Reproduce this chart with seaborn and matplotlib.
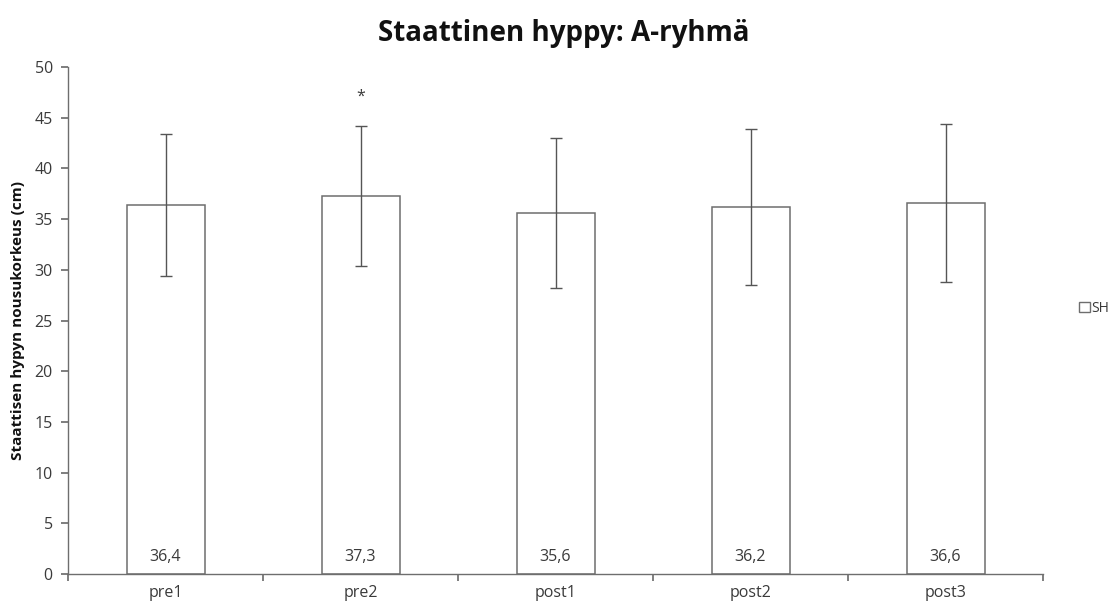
import matplotlib
matplotlib.use("Agg")
import matplotlib.pyplot as plt
from matplotlib.patches import Patch
import seaborn as sns
import pandas as pd

# Static jump height per measurement point
categories = ["pre1", "pre2", "post1", "post2", "post3"]
means = [36.4, 37.3, 35.6, 36.2, 36.6]
sds = [7.0, 6.9, 7.4, 7.7, 7.8]
value_labels = ["36,4", "37,3", "35,6", "36,2", "36,6"]
significant = ["pre2"]
series_name = "SH"

sns.set_theme(style="white")
plt.rcParams["font.family"] = ["Open Sans", "DejaVu Sans"]

df = pd.DataFrame({"time": categories, "height": means})

fig = plt.figure(figsize=(11.12, 6.08), dpi=100)
ax = fig.add_axes([0.0612, 0.0559, 0.8768, 0.8339])

line_col = "#6e6e6e"
text_col = "#3a3a3a"

sns.barplot(data=df, x="time", y="height", order=categories, width=0.4,
            color="white", edgecolor=line_col, linewidth=1.1, ax=ax)

centers = [p.get_x() + p.get_width() / 2 for p in ax.patches]
ax.errorbar(centers, means, yerr=sds, fmt="none", ecolor="#555555",
            elinewidth=1.0, capsize=4, capthick=1.0, zorder=3)

for x, lab in zip(centers, value_labels):
    ax.text(x, 1.7, lab, ha="center", va="center", fontsize=11.5, color=text_col)

for cat in significant:
    i = categories.index(cat)
    ax.text(centers[i], means[i] + sds[i] + 2.9, "*", ha="center", va="center",
            fontsize=11.5, color=text_col)

ax.set_ylim(0, 50)
ax.set_xlim(-0.5, len(categories) - 0.5)
ax.set_yticks(range(0, 51, 5))
ax.set_xticks([i - 0.5 for i in range(len(categories) + 1)], minor=False)
ax.set_xticklabels([])
ax.set_xticks(range(len(categories)), minor=True)
ax.set_xticklabels(categories, minor=True)
ax.tick_params(axis="x", which="major", direction="out", length=5, color=line_col, bottom=True)
ax.tick_params(axis="x", which="minor", length=0, pad=8, labelsize=11.5, labelcolor=text_col)
ax.tick_params(axis="y", direction="out", length=5, color=line_col, left=True,
               labelsize=11.5, labelcolor=text_col, pad=6)

for side in ["top", "right"]:
    ax.spines[side].set_visible(False)
for side in ["left", "bottom"]:
    ax.spines[side].set_color(line_col)
    ax.spines[side].set_linewidth(1.0)

ax.set_xlabel("")
ax.set_ylabel("Staattisen hypyn nousukorkeus (cm)", fontsize=11, fontweight="bold",
              color="#111111", labelpad=7)

fig.suptitle("Staattinen hyppy: A-ryhmä", x=0.507, y=0.968, fontsize=20,
             fontweight="bold", color="#111111")

handle = Patch(facecolor="white", edgecolor=line_col, linewidth=1.0)
fig.legend([handle], [series_name], loc="center left", bbox_to_anchor=(0.9705, 0.493),
           frameon=False, fontsize=10, handlelength=0.75, handleheight=0.75,
           handletextpad=0.15, borderpad=0, borderaxespad=0, labelcolor=text_col)

ax.grid(False)
fig.savefig("out.png", dpi=100, facecolor="white")
